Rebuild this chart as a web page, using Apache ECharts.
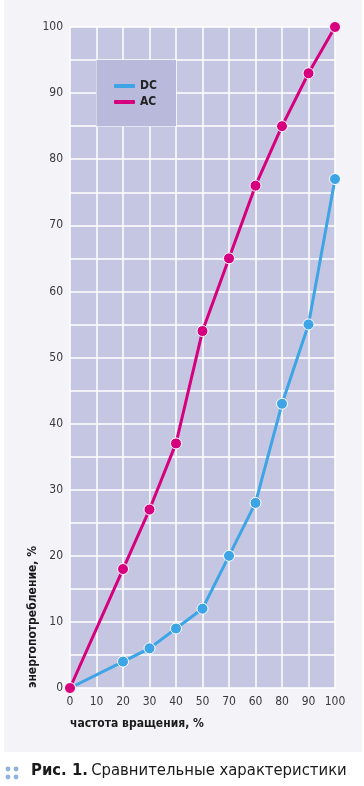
<!DOCTYPE html>
<html>
<head>
<meta charset="utf-8">
<script src="https://cdn.jsdelivr.net/npm/echarts@6/dist/echarts.min.js"></script>
<style>
html,body{margin:0;padding:0;background:#ffffff;}
#c{width:364px;height:786px;}
</style>
</head>
<body>
<div id="c"></div>
<script>
var categories = ['0','10','20','30','40','50','70','60','80','90','100'];
var dcValues = [0, null, 4, 6, 9, 12, 20, 28, 43, 55, 77];
var acValues = [0, null, 18, 27, 37, 54, 65, 76, 85, 93, 100];
var yTicks = [0, 10, 20, 30, 40, 50, 60, 70, 80, 90, 100];

var NARROW = '"Liberation Sans Narrow","DejaVu Sans Condensed",sans-serif';
var chart = echarts.init(document.getElementById('c'), null, {renderer:'canvas'});
var option = {
  backgroundColor: '#ffffff',
  animation: false,
  graphic: [
    {type:'rect', z:-10, shape:{x:4,y:0,width:358,height:752}, style:{fill:'#f3f3f8'}, silent:true},
    {type:'text', left:70, top:718, style:{text:'частота вращения, %', font:'bold 12px ' + NARROW, fill:'#1a1a1a'}},
    {type:'text', x:27, y:688, rotation:Math.PI/2, style:{text:'энергопотребление, %', font:'bold 12px ' + NARROW, fill:'#1a1a1a', textVerticalAlign:'top'}},
    {type:'circle', shape:{cx:8,cy:769,r:2.4}, style:{fill:'#8eb1de'}},
    {type:'circle', shape:{cx:16,cy:769,r:2.4}, style:{fill:'#8eb1de'}},
    {type:'circle', shape:{cx:8,cy:777,r:2.4}, style:{fill:'#8eb1de'}},
    {type:'circle', shape:{cx:16,cy:777,r:2.4}, style:{fill:'#8eb1de'}},
    {type:'text', left:31, top:762, style:{
      text:'{b|Рис. 1.} {r|Сравнительные характеристики}',
      rich:{
        b:{font:'bold 16.5px ' + NARROW, fill:'#1a1a1a'},
        r:{font:'16.5px ' + NARROW, fill:'#1a1a1a'}
      }
    }}
  ],
  grid: {left:70, right:29, top:27, bottom:98, show:true, backgroundColor:'#c5c6e2', borderWidth:0},
  legend: {
    orient:'vertical', left:109, top:75, itemGap:4, itemWidth:21, itemHeight:4, icon:'roundRect',
    itemStyle:{borderWidth:0},
    data:['DC','AC'],
    textStyle:{fontFamily:NARROW, fontWeight:'bold', fontSize:12, color:'#222'}
  },
  xAxis: {
    type:'category', data:categories, boundaryGap:false,
    axisLine:{show:false}, axisTick:{show:false},
    axisLabel:{fontFamily:NARROW, fontSize:12, color:'#3a3a3a', margin:8, interval:0},
    splitLine:{show:true, interval:0, lineStyle:{color:'#ffffff', width:1.5}}
  },
  yAxis: {
    type:'value', min:0, max:100, interval:5,
    axisLine:{show:false}, axisTick:{show:false},
    axisLabel:{fontFamily:NARROW, fontSize:12, color:'#3a3a3a', margin:7,
      formatter:function(v){return yTicks.indexOf(v) >= 0 ? String(v) : '';}},
    splitLine:{show:true, lineStyle:{color:'#ffffff', width:1.5}}
  },
  series: [
    {
      name:'DC', type:'line', data:dcValues, connectNulls:true,
      symbol:'circle', symbolSize:11, z:3,
      lineStyle:{color:'#3da5e6', width:3},
      itemStyle:{color:'#3da5e6', borderColor:'#ffffff', borderWidth:1},
      markArea:{silent:true, itemStyle:{color:'#b9badb'}, data:[[{xAxis:'10', yAxis:95},{xAxis:'40', yAxis:85}]]}
    },
    {
      name:'AC', type:'line', data:acValues, connectNulls:true,
      symbol:'circle', symbolSize:11, z:4,
      lineStyle:{color:'#d6007f', width:3},
      itemStyle:{color:'#d6007f', borderColor:'#ffffff', borderWidth:1}
    }
  ]
};
chart.setOption(option);
</script>
</body>
</html>
